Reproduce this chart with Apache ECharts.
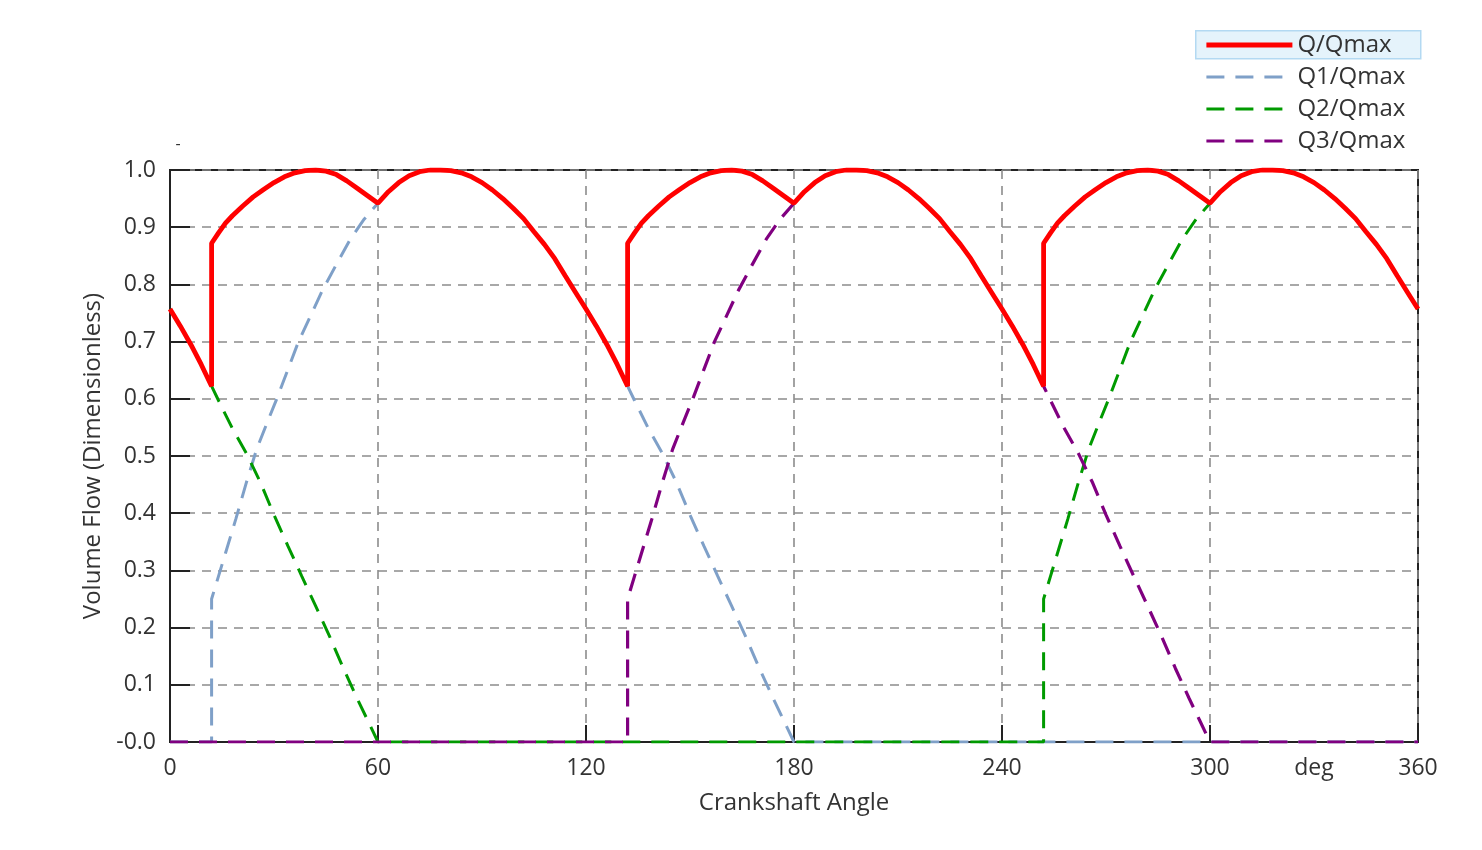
<!DOCTYPE html>
<html>
<head>
<meta charset="utf-8">
<script src="https://cdn.jsdelivr.net/npm/echarts@6/dist/echarts.min.js"></script>
<style>
html,body{margin:0;padding:0;background:#fff;}
#chart{width:1482px;height:850px;}
</style>
</head>
<body>
<div id="chart"></div>
<script>
// ---------- data ----------
const seriesNames = ['Q/Qmax', 'Q1/Qmax', 'Q2/Qmax', 'Q3/Qmax'];
const xTicks = [0, 60, 120, 180, 240, 300, 360];
const extraXLabel = { value: 330, text: 'deg' };
const xTitle = 'Crankshaft Angle';
const yTitle = 'Volume Flow (Dimensionless)';

// Total flow Q/Qmax  [angle deg, value]
const qTotal = [
  [0,0.757],[3,0.727],[6,0.695],[9,0.66],[12,0.622],
  [12,0.872],[14,0.89],[16,0.907],[18,0.92],[21,0.937],[24,0.953],[27,0.966],[30,0.978],[33,0.988],[36,0.995],[39,0.999],[42,1.0],[45,0.998],[48,0.992],[51,0.981],[54,0.968],[57,0.955],[60,0.942],
  [63,0.962],[66,0.978],[69,0.99],[72,0.997],[75,1.0],[78,1.0],[81,0.999],[84,0.995],[87,0.988],[90,0.978],[93,0.965],[96,0.95],[99,0.933],[102,0.915],[105,0.892],[108,0.87],[111,0.845],[114,0.815],[117,0.786],[120,0.757],[123,0.727],[126,0.695],[129,0.66],[132,0.622],
  [132,0.872],[134,0.89],[136,0.907],[138,0.92],[141,0.937],[144,0.953],[147,0.966],[150,0.978],[153,0.988],[156,0.995],[159,0.999],[162,1.0],[165,0.998],[168,0.992],[171,0.981],[174,0.968],[177,0.955],[180,0.942],
  [183,0.962],[186,0.978],[189,0.99],[192,0.997],[195,1.0],[198,1.0],[201,0.999],[204,0.995],[207,0.988],[210,0.978],[213,0.965],[216,0.95],[219,0.933],[222,0.915],[225,0.892],[228,0.87],[231,0.845],[234,0.815],[237,0.786],[240,0.757],[243,0.727],[246,0.695],[249,0.66],[252,0.622],
  [252,0.872],[254,0.89],[256,0.907],[258,0.92],[261,0.937],[264,0.953],[267,0.966],[270,0.978],[273,0.988],[276,0.995],[279,0.999],[282,1.0],[285,0.998],[288,0.992],[291,0.981],[294,0.968],[297,0.955],[300,0.942],
  [303,0.962],[306,0.978],[309,0.99],[312,0.997],[315,1.0],[318,1.0],[321,0.999],[324,0.995],[327,0.988],[330,0.978],[333,0.965],[336,0.95],[339,0.933],[342,0.915],[345,0.892],[348,0.87],[351,0.845],[354,0.815],[357,0.786],[360,0.757]
];

// Cylinder 1 Q1/Qmax
const q1 = [
  [0,0],[12,0],
  [12,0.25],[14,0.29],[16,0.33],[19,0.39],[22,0.453],[25,0.512],[28,0.558],[31,0.603],[34,0.651],[37,0.699],[40,0.738],[44,0.79],[48,0.835],[52,0.879],[56,0.914],[60,0.942],
  [63,0.962],[66,0.978],[69,0.99],[72,0.997],[75,1.0],[78,1.0],[81,0.999],[84,0.995],[87,0.988],[90,0.978],[93,0.965],[96,0.95],[99,0.933],[102,0.915],[105,0.892],[108,0.87],[111,0.845],[114,0.815],[117,0.786],[120,0.757],[123,0.727],[126,0.695],[129,0.66],[132,0.622],
  [134,0.597],[138,0.548],[142,0.505],[146,0.455],[150,0.397],[154,0.343],[158,0.29],[162,0.238],[166,0.185],[170,0.129],[174,0.076],[177,0.038],[180,0],
  [360,0]
];

// Cylinder 2 Q2/Qmax
const q2 = [
  [0,0.757],[3,0.727],[6,0.695],[9,0.66],[12,0.622],
  [14,0.597],[18,0.548],[22,0.505],[26,0.455],[30,0.397],[34,0.343],[38,0.29],[42,0.238],[46,0.185],[50,0.129],[54,0.076],[57,0.038],[60,0],
  [252,0],
  [252,0.25],[254,0.29],[256,0.33],[259,0.39],[262,0.453],[265,0.512],[268,0.558],[271,0.603],[274,0.651],[277,0.699],[280,0.738],[284,0.79],[288,0.835],[292,0.879],[296,0.914],[300,0.942],
  [303,0.962],[306,0.978],[309,0.99],[312,0.997],[315,1.0],[318,1.0],[321,0.999],[324,0.995],[327,0.988],[330,0.978],[333,0.965],[336,0.95],[339,0.933],[342,0.915],[345,0.892],[348,0.87],[351,0.845],[354,0.815],[357,0.786],[360,0.757]
];

// Cylinder 3 Q3/Qmax
const q3 = [
  [0,0],[132,0],
  [132,0.25],[134,0.29],[136,0.33],[139,0.39],[142,0.453],[145,0.512],[148,0.558],[151,0.603],[154,0.651],[157,0.699],[160,0.738],[164,0.79],[168,0.835],[172,0.879],[176,0.914],[180,0.942],
  [183,0.962],[186,0.978],[189,0.99],[192,0.997],[195,1.0],[198,1.0],[201,0.999],[204,0.995],[207,0.988],[210,0.978],[213,0.965],[216,0.95],[219,0.933],[222,0.915],[225,0.892],[228,0.87],[231,0.845],[234,0.815],[237,0.786],[240,0.757],[243,0.727],[246,0.695],[249,0.66],[252,0.622],
  [254,0.597],[258,0.548],[262,0.505],[266,0.455],[270,0.397],[274,0.343],[278,0.29],[282,0.238],[286,0.185],[290,0.129],[294,0.076],[297,0.038],[300,0],
  [360,0]
];

// ---------- chart ----------
const FONT = "'Open Sans', 'DejaVu Sans', sans-serif";
const TXT = '#333';
const chart = echarts.init(document.getElementById('chart'), null, { renderer: 'canvas' });

const dash = [18, 11];
const gridLineStyle = { color: '#8c8c8c', width: 1.6, type: [9, 7] };
const colors = ['#ff0000', '#7fa0c8', '#009a00', '#800080'];
const widths = [4.8, 3, 3, 3.2];

chart.setOption({
  animation: false,
  backgroundColor: '#fff',
  grid: { left: 170, right: 64, top: 170, bottom: 108, show: true, borderColor: '#222', borderWidth: 2, backgroundColor: 'transparent' },
  legend: {
    orient: 'vertical',
    left: 1199,
    top: 28,
    itemWidth: 86,
    itemHeight: 16,
    itemGap: 8,
    itemStyle: { opacity: 0 },
    data: seriesNames.map((n, i) => ({
      name: n,
      itemStyle: { opacity: 0 },
      lineStyle: { color: colors[i], width: widths[i], type: i === 0 ? 'solid' : dash }
    })),
    textStyle: { fontFamily: FONT, fontSize: 24, color: TXT, lineHeight: 24, padding: [0, 0, 0, 0] },
    selectedMode: false
  },
  xAxis: {
    type: 'value',
    min: xTicks[0], max: xTicks[xTicks.length - 1], interval: 60,
    name: xTitle, nameLocation: 'middle', nameGap: 49,
    nameTextStyle: { fontFamily: FONT, fontSize: 24, color: TXT },
    axisLine: { show: true, lineStyle: { color: '#222', width: 2 } },
    axisTick: { show: true, inside: true, length: 17, lineStyle: { color: '#222', width: 2 } },
    axisLabel: { fontFamily: FONT, fontSize: 23, color: TXT, margin: 15 },
    splitLine: { show: true, lineStyle: gridLineStyle }
  },
  yAxis: {
    type: 'value',
    min: 0, max: 1, interval: 0.1,
    name: yTitle, nameLocation: 'middle', nameGap: 64,
    nameTextStyle: { fontFamily: FONT, fontSize: 24, color: TXT },
    axisLine: { show: true, lineStyle: { color: '#222', width: 2 } },
    axisTick: { show: true, inside: true, length: 20, lineStyle: { color: '#222', width: 2 } },
    axisLabel: {
      fontFamily: FONT, fontSize: 23, color: TXT, margin: 14,
      formatter: v => (Math.abs(v) < 1e-9 ? '-0.0' : v.toFixed(1))
    },
    splitLine: { show: true, lineStyle: gridLineStyle }
  },
  series: [
    { name: seriesNames[0], type: 'line', data: qTotal, symbol: 'none', z: 6,
      lineStyle: { color: colors[0], width: widths[0], type: 'solid' }, itemStyle: { color: colors[0] } },
    { name: seriesNames[1], type: 'line', data: q1, symbol: 'none', z: 3,
      lineStyle: { color: colors[1], width: widths[1], type: dash }, itemStyle: { color: colors[1] } },
    { name: seriesNames[2], type: 'line', data: q2, symbol: 'none', z: 4,
      lineStyle: { color: colors[2], width: widths[2], type: dash }, itemStyle: { color: colors[2] } },
    { name: seriesNames[3], type: 'line', data: q3, symbol: 'none', z: 5,
      lineStyle: { color: colors[3], width: widths[3], type: dash }, itemStyle: { color: colors[3] } }
  ]
});

// extra decorations placed via the chart's own coordinate system
const degPos = chart.convertToPixel({ xAxisIndex: 0 }, extraXLabel.value);
const axisBottom = chart.convertToPixel({ yAxisIndex: 0 }, 0);
const yTop = chart.convertToPixel({ yAxisIndex: 0 }, 1);
const xLeft = chart.convertToPixel({ xAxisIndex: 0 }, 0);
chart.setOption({
  graphic: [
    { type: 'rect', left: 1195, top: 30, z: -1,
      shape: { width: 225, height: 28 },
      style: { fill: '#e5f3fb', stroke: '#b3d9f2', lineWidth: 1.5 } },
    { type: 'text', x: degPos, y: axisBottom + 15,
      style: { text: extraXLabel.text, fontFamily: FONT, fontSize: 23, fill: TXT, align: 'center', verticalAlign: 'top' } },
    { type: 'text', x: xLeft + 8, y: yTop - 26,
      style: { text: '-', fontFamily: FONT, fontSize: 16, fill: TXT, align: 'center', verticalAlign: 'middle' } }
  ]
});
</script>
</body>
</html>
